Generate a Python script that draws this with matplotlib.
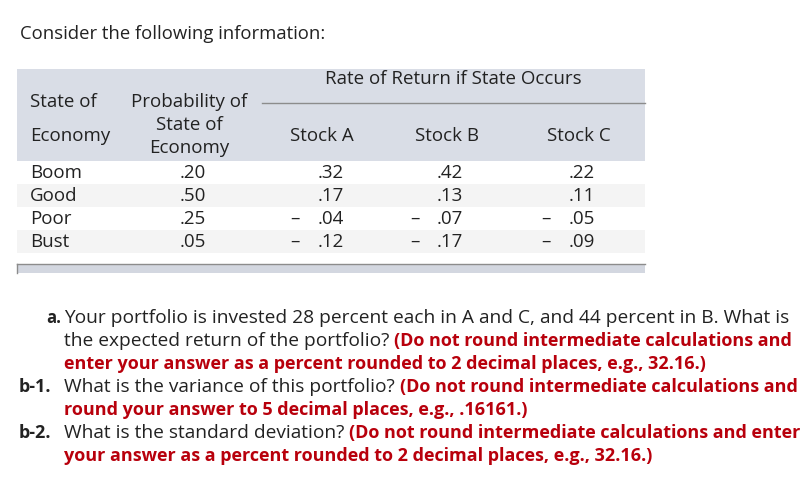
import matplotlib
matplotlib.use("Agg")
import matplotlib.pyplot as plt
from matplotlib.patches import Rectangle

# table data
states = ["Boom", "Good", "Poor", "Bust"]
probs = [0.20, 0.50, 0.25, 0.05]
stock_a = [0.32, 0.17, -0.04, -0.12]
stock_b = [0.42, 0.13, -0.07, -0.17]
stock_c = [0.22, 0.11, -0.05, -0.09]
stock_names = ["Stock A", "Stock B", "Stock C"]

intro = "Consider the following information:"
questions = [
    ("a.", ["Your portfolio is invested 28 percent each in A and C, and 44 percent in B. What is",
            ("the expected return of the portfolio? ", "(Do not round intermediate calculations and"),
            ("", "enter your answer as a percent rounded to 2 decimal places, e.g., 32.16.)")]),
    ("b-1.", [("What is the variance of this portfolio? ", "(Do not round intermediate calculations and"),
              ("", "round your answer to 5 decimal places, e.g., .16161.)")]),
    ("b-2.", [("What is the standard deviation? ", "(Do not round intermediate calculations and enter"),
              ("", "your answer as a percent rounded to 2 decimal places, e.g., 32.16.)")]),
]

FONT = "Open Sans"
TXT = "#222222"
RED = "#b8000c"
HEAD_BG = "#d9dde6"
ROW_BG = "#f4f4f4"
TS = 13.5    # table font size
QS = 13.8    # question font size
RS = 13.0    # bold red font size


def fmt(v):
    return f"{abs(v):.2f}".lstrip("0")


fig = plt.figure(figsize=(8.12, 4.86), dpi=100)
ax = fig.add_axes([0, 0, 1, 1])
ax.set_xlim(0, 812)
ax.set_ylim(486, 0)
ax.axis("off")

ax.text(20, 34, intro, fontsize=13.3, family=FONT, va="center", color=TXT)

# header band
x0, x1 = 17, 645
ax.add_patch(Rectangle((x0, 69), x1 - x0, 92, color=HEAD_BG, lw=0))
ax.text(453, 79, "Rate of Return if State Occurs", fontsize=TS, family=FONT,
        ha="center", va="center", color=TXT)
ax.plot([262, x1], [103, 103], color="#8c8c8c", lw=1)
ax.text(30, 102, "State of", fontsize=TS, family=FONT, va="center", color=TXT)
ax.text(30, 136, "Economy", fontsize=TS, family=FONT, va="center", color=TXT)
for y, s in zip([102, 125, 148], ["Probability of", "State of", "Economy"]):
    ax.text(189, y, s, fontsize=TS, family=FONT, ha="center", va="center", color=TXT)
col_x = [322, 447, 579]
for cx, name in zip(col_x, stock_names):
    ax.text(cx, 136, name, fontsize=TS, family=FONT, ha="center", va="center", color=TXT)

# rows
row_top = 161
row_h = 23
val_right = [344, 463, 595]
minus_x = [295, 415, 546]
for i, st in enumerate(states):
    top = row_top + i * row_h
    if i % 2 == 1:
        ax.add_patch(Rectangle((x0, top), x1 - x0, row_h, color=ROW_BG, lw=0))
    yc = top + row_h / 2
    ax.text(30, yc, st, fontsize=TS, family=FONT, va="center", color=TXT)
    ax.text(206, yc, fmt(probs[i]), fontsize=TS, family=FONT, ha="right", va="center", color=TXT)
    for j, col in enumerate([stock_a, stock_b, stock_c]):
        v = col[i]
        ax.text(val_right[j], yc, fmt(v), fontsize=TS, family=FONT, ha="right", va="center",
                color=TXT)
        if v < 0:
            ax.text(minus_x[j], yc, "\u2013", fontsize=TS, family=FONT, ha="center", va="center",
                    color=TXT)

# bottom bar
ax.add_patch(Rectangle((x0, 264), x1 - x0, 9, color="#d3d7e0", lw=0))
ax.plot([x0, x1], [264, 264], color="#8c8c8c", lw=1)
ax.plot([x0, x0], [264, 273], color="#8c8c8c", lw=1)

# questions
fig.canvas.draw()
renderer = fig.canvas.get_renderer()
inv = ax.transData.inverted()

y = 318
line_h = 23
for label, lines in questions:
    if label == "a.":
        ax.text(46, y, label, fontsize=12, family=FONT, weight="bold", va="center", color=TXT)
    else:
        ax.text(19, y, label, fontsize=RS, family=FONT, weight="bold", va="center", color=TXT)
    for ln in lines:
        if isinstance(ln, str):
            ax.text(64, y, ln, fontsize=QS, family=FONT, va="center", color=TXT)
        else:
            black, red = ln
            xr = 64
            if black:
                t = ax.text(64, y, black, fontsize=QS, family=FONT, va="center", color=TXT)
                bb = t.get_window_extent(renderer)
                xr = inv.transform((bb.x1, bb.y0))[0]
            ax.text(xr, y, red, fontsize=RS, family=FONT, weight="bold", va="center", color=RED)
        y += line_h

fig.savefig("out.png", dpi=100)
